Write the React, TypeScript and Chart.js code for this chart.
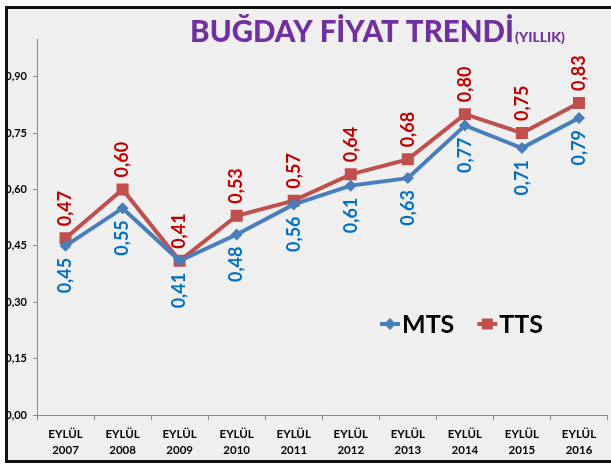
import { useEffect, useRef } from 'react';
import { Chart, registerables } from 'chart.js';

Chart.register(...registerables);

const categoryPrefix = 'EYLÜL';
const categories = ['2007', '2008', '2009', '2010', '2011', '2012', '2013', '2014', '2015', '2016'];
const seriesNames = ['MTS', 'TTS'];
const mtsValues = [0.45, 0.55, 0.41, 0.48, 0.56, 0.61, 0.63, 0.77, 0.71, 0.79];
const ttsValues = [0.47, 0.6, 0.41, 0.53, 0.57, 0.64, 0.68, 0.8, 0.75, 0.83];
const yMin = 0;
const yMax = 1.0;
const yStep = 0.15;
const titleMain = 'BUĞDAY FİYAT TRENDİ';
const titleSub = '(YILLIK)';

const FONT = 'Lato, "Open Sans", sans-serif';
const fmt = (v: number) => v.toFixed(2).replace('.', ',');

const backgroundPlugin = {
  id: 'bgFrame',
  beforeDraw(chart: any) {
    const { ctx, width, height } = chart;
    ctx.save();
    ctx.fillStyle = '#ffffff';
    ctx.fillRect(0, 0, width, height);
    ctx.fillStyle = '#efefef';
    ctx.fillRect(6, 7, width, 455);
    ctx.restore();
  },
  afterDraw(chart: any) {
    const { ctx, width } = chart;
    ctx.save();
    ctx.strokeStyle = '#111111';
    ctx.lineWidth = 3;
    ctx.beginPath();
    ctx.moveTo(width + 10, 7.5);
    ctx.lineTo(6.5, 7.5);
    ctx.lineTo(6.5, 461.5);
    ctx.lineTo(width + 10, 461.5);
    ctx.stroke();
    // title
    ctx.fillStyle = '#7030A0';
    ctx.textBaseline = 'alphabetic';
    ctx.font = `900 29.5px ${FONT}`;
    const wMain = ctx.measureText(titleMain).width;
    ctx.font = `900 14px ${FONT}`;
    const wSub = ctx.measureText(titleSub).width;
    const start = 377 - (wMain + wSub) / 2;
    ctx.font = `900 29.5px ${FONT}`;
    ctx.textAlign = 'left';
    ctx.fillText(titleMain, start, 42);
    ctx.font = `900 14px ${FONT}`;
    ctx.fillText(titleSub, start + wMain + 1, 42);
    ctx.restore();
  },
};

const valueLabelPlugin = {
  id: 'valueLabels',
  afterDatasetsDraw(chart: any, _args: any, opts: any) {
    const { ctx } = chart;
    ctx.save();
    ctx.font = `bold 18px ${FONT}`;
    ctx.textBaseline = 'middle';
    chart.data.datasets.forEach((ds: any, i: number) => {
      const meta = chart.getDatasetMeta(i);
      const above = opts.positions[i] === 'above';
      ctx.fillStyle = opts.colors[i];
      meta.data.forEach((pt: any, j: number) => {
        const v = ds.data[j];
        ctx.save();
        ctx.translate(pt.x, pt.y + (above ? -12 : 12));
        ctx.rotate(-Math.PI / 2);
        ctx.textAlign = above ? 'left' : 'right';
        ctx.fillText(fmt(v), 0, 0);
        ctx.restore();
      });
    });
    ctx.restore();
  },
};

const legendPlugin = {
  id: 'insideLegend',
  afterDraw(chart: any, _args: any, opts: any) {
    const { ctx } = chart;
    ctx.save();
    ctx.font = `bold 25px ${FONT}`;
    ctx.textBaseline = 'middle';
    ctx.textAlign = 'left';
    let x = opts.x;
    const y = opts.y;
    chart.data.datasets.forEach((ds: any) => {
      ctx.strokeStyle = ds.borderColor;
      ctx.fillStyle = ds.borderColor;
      ctx.lineWidth = 4;
      ctx.beginPath();
      ctx.moveTo(x, y);
      ctx.lineTo(x + 20, y);
      ctx.stroke();
      const cx = x + 10;
      if (ds.pointStyle === 'rect') {
        ctx.fillRect(cx - 5.5, y - 5.5, 11, 11);
      } else {
        ctx.beginPath();
        ctx.moveTo(cx, y - 6);
        ctx.lineTo(cx + 6, y);
        ctx.lineTo(cx, y + 6);
        ctx.lineTo(cx - 6, y);
        ctx.closePath();
        ctx.fill();
      }
      ctx.fillStyle = '#000000';
      ctx.fillText(ds.label, x + 22, y + 1);
      x += 22 + ctx.measureText(ds.label).width + 23;
    });
    ctx.restore();
  },
};

export default function App() {
  const ref = useRef<HTMLCanvasElement>(null);
  useEffect(() => {
    if (!ref.current) return;
    const axisColor = '#8a8a8a';
    const chart = new Chart(ref.current, {
      type: 'line',
      data: {
        labels: categories.map((c) => [categoryPrefix, c]),
        datasets: [
          {
            label: seriesNames[0],
            data: mtsValues,
            borderColor: '#4A7EBB',
            backgroundColor: '#4A7EBB',
            borderWidth: 4,
            pointStyle: 'rectRot',
            pointRadius: 6,
            pointBorderWidth: 0,
            pointBackgroundColor: '#4A7EBB',
            tension: 0,
          },
          {
            label: seriesNames[1],
            data: ttsValues,
            borderColor: '#C0504D',
            backgroundColor: '#C0504D',
            borderWidth: 4,
            pointStyle: 'rect',
            pointRadius: 8.5,
            pointBorderWidth: 0,
            pointBackgroundColor: '#C0504D',
            tension: 0,
          },
        ],
      },
      options: {
        responsive: false,
        animation: false,
        devicePixelRatio: 1,
        layout: { padding: { top: 39, left: 0, right: 0, bottom: 0 } },
        plugins: {
          legend: { display: false },
          title: { display: false },
          tooltip: { enabled: false },
          valueLabels: { positions: ['below', 'above'], colors: ['#0070C0', '#C00000'] },
          insideLegend: { x: 380, y: 324 },
        } as any,
        scales: {
          x: {
            type: 'category',
            offset: true,
            grid: { offset: true, drawOnChartArea: false, tickLength: 5, color: axisColor },
            border: { color: axisColor, width: 1 },
            ticks: {
              color: '#000000',
              font: { family: FONT, weight: 'bold', size: 11.5, lineHeight: 1.35 },
              padding: 7,
              maxRotation: 0,
              autoSkip: false,
            },
            afterFit: (s: any) => {
              s.height = 49;
            },
          },
          y: {
            min: yMin,
            max: yMax,
            grid: { drawOnChartArea: false, tickLength: 4, color: axisColor },
            border: { color: axisColor, width: 1 },
            ticks: {
              stepSize: yStep,
              includeBounds: false,
              color: '#000000',
              padding: 6,
              font: { family: FONT, weight: 'bold', size: 11 },
              callback: (v: any) => fmt(Number(v)),
            },
            afterFit: (s: any) => {
              s.width = 37;
            },
          },
        },
      },
      plugins: [backgroundPlugin, valueLabelPlugin, legendPlugin],
    });
    return () => chart.destroy();
  }, []);
  return (
    <div
      style={{
        position: 'fixed',
        left: 0,
        top: 0,
        width: 611,
        height: 464,
        overflow: 'hidden',
        background: '#fff',
      }}
    >
      <canvas ref={ref} width={616} height={464} style={{ display: 'block' }} />
    </div>
  );
}
